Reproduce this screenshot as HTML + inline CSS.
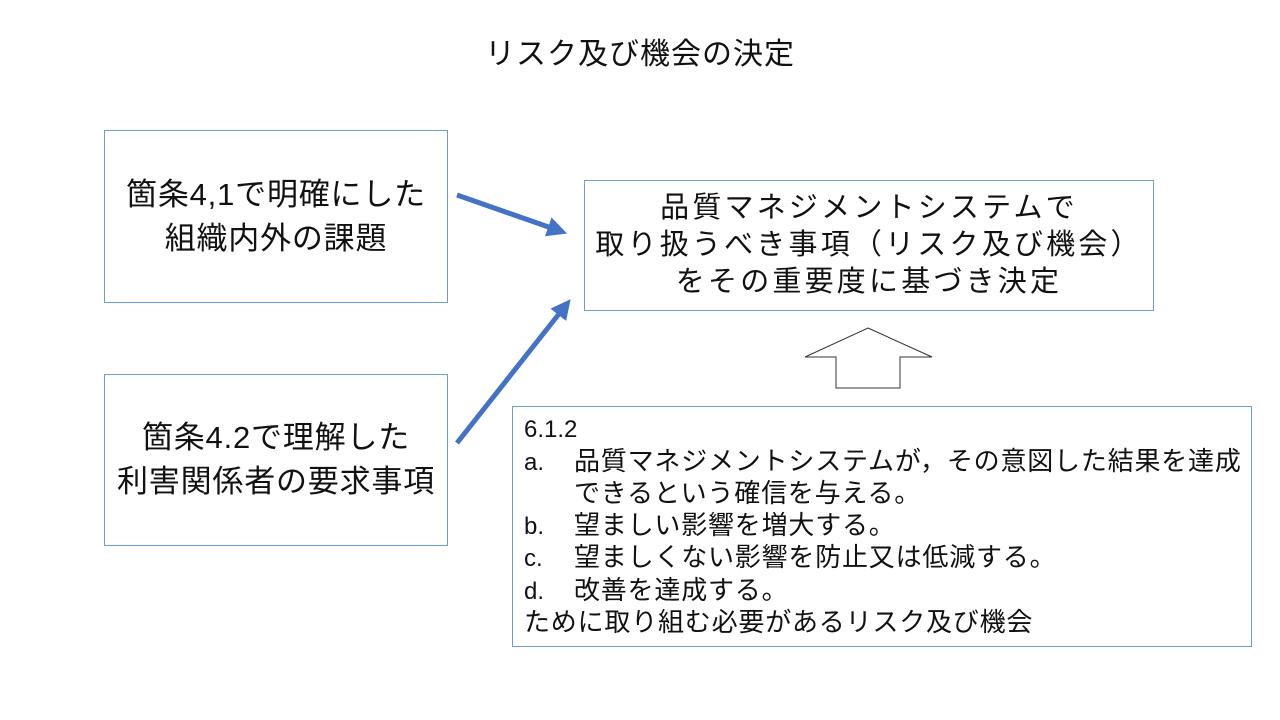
<!DOCTYPE html>
<html><head><meta charset="utf-8"><style>
body{margin:0;width:1280px;height:720px;background:#fff;position:relative;overflow:hidden;font-family:"Liberation Sans","Noto Sans CJK JP",sans-serif;color:#111}
.b{position:absolute;border:1px solid #6a9fd0;box-sizing:border-box}
.c{display:flex;align-items:center;justify-content:center;text-align:center}
.t{position:absolute;white-space:nowrap}
.l{display:inline-block;width:50px;letter-spacing:0;font-size:24px}
</style></head><body>
<div class="t" style="left:0;width:1280px;top:29px;text-align:center;font-size:30px;letter-spacing:1px">リスク及び機会の決定</div>
<div class="b c" style="left:104px;top:130px;width:344px;height:173px;font-size:31px;line-height:44px;letter-spacing:0.8px">箇条4,1で明確にした<br>組織内外の課題</div>
<div class="b c" style="left:104px;top:374px;width:344px;height:172px;font-size:31px;line-height:44px;letter-spacing:0.8px">箇条4.2で理解した<br>利害関係者の要求事項</div>
<div class="b c" style="left:584px;top:180px;width:570px;height:131px;font-size:29px;line-height:37px;letter-spacing:3.2px">品質マネジメントシステムで<br>取り扱うべき事項（リスク及び機会）<br>をその重要度に基づき決定</div>
<div class="b" style="left:512px;top:406px;width:740px;height:241px;font-size:26px;line-height:31.5px;padding:6px 0 0 11px;letter-spacing:0.8px;white-space:nowrap">
<span style="letter-spacing:0;font-size:24px">6.1.2</span><br>
<span class="l">a.</span>品質マネジメントシステムが，その意図した結果を達成<br>
<span class="l"></span>できるという確信を与える。<br>
<span class="l">b.</span>望ましい影響を増大する。<br>
<span class="l">c.</span>望ましくない影響を防止又は低減する。<br>
<span class="l">d.</span>改善を達成する。<br>
ために取り組む必要があるリスク及び機会</div>
<svg width="1280" height="720" style="position:absolute;left:0;top:0">
<defs><marker id="a" markerWidth="4" markerHeight="4" refX="2.5" refY="2" orient="auto"><path d="M0,0L4,2L0,4Z" fill="#4472c4"/></marker></defs>
<line x1="457" y1="195" x2="560" y2="231" stroke="#4472c4" stroke-width="5" marker-end="url(#a)"/>
<line x1="457" y1="443" x2="566" y2="305" stroke="#4472c4" stroke-width="5" marker-end="url(#a)"/>
<path d="M868,328L932,357H900V388H836V357H805Z" fill="#fff" stroke="#333" stroke-width="1"/>
</svg>
</body></html>
